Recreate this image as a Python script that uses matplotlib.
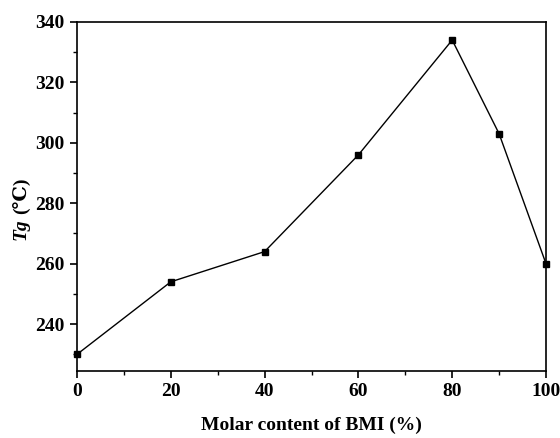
import matplotlib
matplotlib.use('Agg')
import matplotlib.pyplot as plt
from matplotlib.ticker import MultipleLocator

# data
bmi_content = [0, 20, 40, 60, 80, 90, 100]
tg_values = [230, 254, 264, 296, 334, 303, 260]

plt.rcParams['font.family'] = ['Liberation Serif', 'DejaVu Serif']
plt.rcParams['font.weight'] = 'bold'

fig = plt.figure(figsize=(5.6, 4.38), dpi=100)
ax = fig.add_axes([0.1375, 0.153, 0.8375, 0.797])

ax.plot(bmi_content, tg_values, color='black', linewidth=1.0,
        marker='s', markersize=5, clip_on=False)

ax.set_xlim(0, 100)
ax.set_ylim(224.5, 340)
ax.xaxis.set_major_locator(MultipleLocator(20))
ax.xaxis.set_minor_locator(MultipleLocator(10))
ax.yaxis.set_major_locator(MultipleLocator(20))
ax.yaxis.set_minor_locator(MultipleLocator(10))
ax.set_yticks([240, 260, 280, 300, 320, 340])

ax.tick_params(which='major', direction='out', length=5, width=1.2, labelsize=14, pad=4)
ax.tick_params(which='minor', direction='out', length=3, width=1.0)
for s in ax.spines.values():
    s.set_linewidth(1.2)

ax.set_xlabel('Molar content of BMI (%)', fontsize=14, fontweight='bold', labelpad=12)

# y label: italic "Tg" followed by upright "(℃)"
tg_txt = fig.text(0.038, 0.452, 'Tg', fontsize=14, fontweight='bold', style='italic',
                  rotation=90, ha='center', va='bottom')
ax.annotate('(℃)', xy=(0.5, 1.0), xycoords=tg_txt, xytext=(0, 3), textcoords='offset points',
            fontsize=14, fontweight='bold', rotation=90, ha='center', va='bottom',
            annotation_clip=False)

fig.savefig('out.png', dpi=100)
